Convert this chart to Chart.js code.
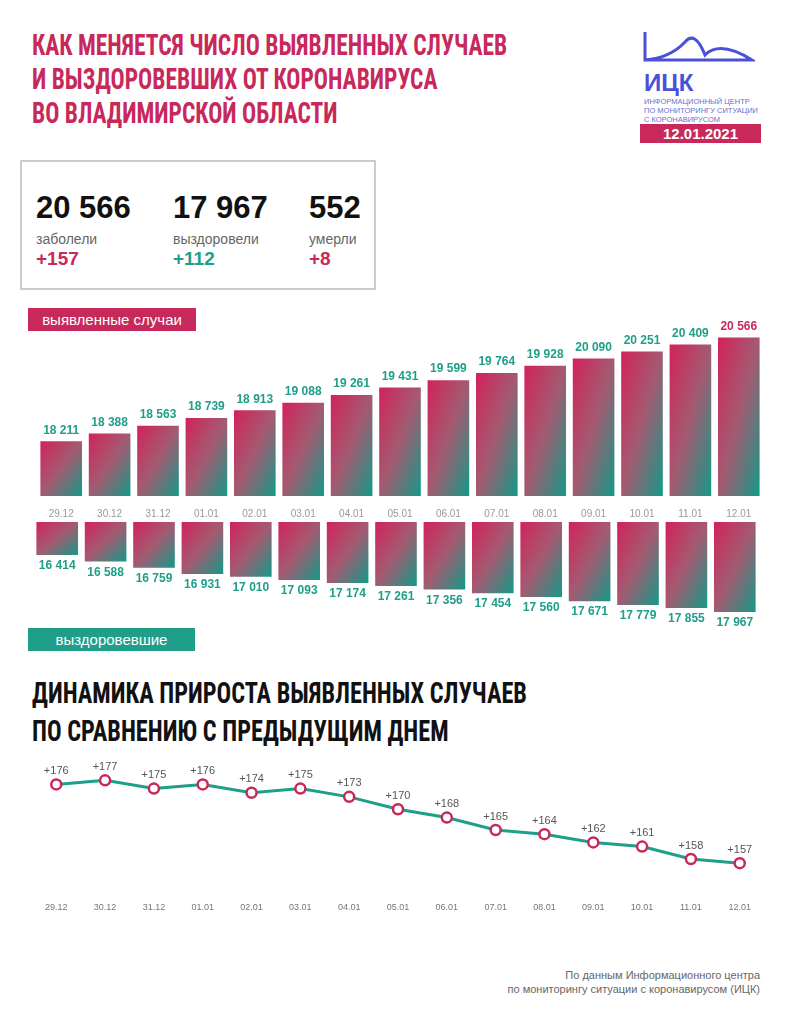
<!DOCTYPE html>
<html><head><meta charset="utf-8">
<script src="https://cdn.jsdelivr.net/npm/chart.js@4/dist/chart.umd.min.js"></script>
<style>
body{margin:0;width:793px;height:1024px;background:#fff;position:relative;font-family:"Liberation Sans",Arial,sans-serif;overflow:hidden}
.abs{position:absolute}
.title{font-family:"Liberation Sans Narrow","Roboto Condensed",sans-serif;font-weight:bold;font-size:29px;line-height:34px;color:#c8285a;transform:scaleX(0.81);transform-origin:left;white-space:nowrap}
.num{font-weight:bold;font-size:31px;color:#111}
.lbl{font-size:14px;color:#666}
.pl{font-weight:bold;font-size:19px}
</style></head><body>
<div class="abs title" style="left:32px;top:28px">КАК МЕНЯЕТСЯ ЧИСЛО ВЫЯВЛЕННЫХ СЛУЧАЕВ<br>И ВЫЗДОРОВЕВШИХ ОТ КОРОНАВИРУСА<br>ВО ВЛАДИМИРСКОЙ ОБЛАСТИ</div>
<svg class="abs" style="left:640px;top:30px" width="115" height="40"><path d="M5 2 V30 Q30 28 45 12 Q55 0 65 25 Q80 10 112 30 H5" fill="none" stroke="#4a50d8" stroke-width="3"/></svg>
<div class="abs" style="left:644px;top:69px;font-weight:bold;font-size:24px;color:#4a50d8">ИЦК</div>
<div class="abs" style="left:644px;top:97px;font-size:7.5px;line-height:9px;color:#6a6fd0">ИНФОРМАЦИОННЫЙ ЦЕНТР<br>ПО МОНИТОРИНГУ СИТУАЦИИ<br>С КОРОНАВИРУСОМ</div>
<div class="abs" style="left:640px;top:124px;width:121px;height:19px;background:#c8285a;color:#fff;font-size:15px;font-weight:bold;text-align:center;line-height:19px">12.01.2021</div>
<div class="abs" style="left:20px;top:160px;width:352px;height:126px;border:2px solid #ccc"></div>
<div class="abs num" style="left:36px;top:190px">20 566</div>
<div class="abs num" style="left:173px;top:190px">17 967</div>
<div class="abs num" style="left:309px;top:190px">552</div>
<div class="abs lbl" style="left:36px;top:231px">заболели</div>
<div class="abs lbl" style="left:173px;top:231px">выздоровели</div>
<div class="abs lbl" style="left:309px;top:231px">умерли</div>
<div class="abs pl" style="left:36px;top:248px;color:#c8285a">+157</div>
<div class="abs pl" style="left:173px;top:248px;color:#1f9e8a">+112</div>
<div class="abs pl" style="left:309px;top:248px;color:#c8285a">+8</div>
<div class="abs" style="left:28px;top:308px;width:168px;height:23px;background:#c8285a;color:#fff;font-size:15px;line-height:23px;text-align:center">выявленные случаи</div>
<div class="abs" style="left:28px;top:628px;width:167px;height:23px;background:#1f9e8a;color:#fff;font-size:15px;line-height:23px;text-align:center">выздоровевшие</div>
<div class="abs title" style="left:32px;top:674px;color:#111;font-size:30px;line-height:38px">ДИНАМИКА ПРИРОСТА ВЫЯВЛЕННЫХ СЛУЧАЕВ<br>ПО СРАВНЕНИЮ С ПРЕДЫДУЩИМ ДНЕМ</div>
<div class="abs" style="right:33px;top:968px;font-size:11px;line-height:14px;color:#666;text-align:right">По данным Информационного центра<br>по мониторингу ситуации с коронавирусом (ИЦК)</div>

<div class="abs" style="left:37px;top:310px;width:726px;height:214px"><canvas id="c1"></canvas></div>
<div class="abs" style="left:33px;top:522px;width:726px;height:110px"><canvas id="c2"></canvas></div>
<div class="abs" style="left:33px;top:740px;width:730px;height:185px"><canvas id="c3"></canvas></div>
<script>
const dates = ['29.12','30.12','31.12','01.01','02.01','03.01','04.01','05.01','06.01','07.01','08.01','09.01','10.01','11.01','12.01'];
const cases = [18211,18388,18563,18739,18913,19088,19261,19431,19599,19764,19928,20090,20251,20409,20566];
const recovered = [16414,16588,16759,16931,17010,17093,17174,17261,17356,17454,17560,17671,17779,17855,17967];
const growth = [176,177,175,176,174,175,173,170,168,165,164,162,161,158,157];

const PINK = '#c8285a', TEAL = '#1f9e8a';
const fmt = v => String(v).replace(/\B(?=(\d{3})+(?!\d))/g, ' ');

// corner-to-corner gradient per bar (like css "to bottom right")
function grad(ctx) {
  const ch = ctx.chart, xs = ch.scales.x, ys = ch.scales.y;
  if (!ch.chartArea || !xs || !ys || ctx.raw === undefined) return PINK;
  const x = xs.getPixelForValue(ctx.dataIndex);
  const y = ys.getPixelForValue(ctx.raw);
  const base = ys.getPixelForValue(ys.min);
  const top = Math.min(y, base), bot = Math.max(y, base);
  const w = 42, h = Math.max(bot - top, 1);
  const k = 2 * w * h / (w * w + h * h);
  const x0 = x - w / 2;
  const g = ch.ctx.createLinearGradient(x0, top, x0 + h * k, top + w * k);
  g.addColorStop(0, '#d2225a'); g.addColorStop(0.5, '#a35b72'); g.addColorStop(1, '#129a88');
  return g;
}

const barLabels = {
  id: 'barLabels',
  afterDatasetsDraw(chart, args, opts) {
    const c = chart.ctx;
    c.save();
    c.font = 'bold 12px "Liberation Sans", Arial';
    c.textAlign = 'center';
    chart.getDatasetMeta(0).data.forEach((b, i) => {
      const v = chart.data.datasets[0].data[i];
      c.fillStyle = (opts.lastPink && i === dates.length - 1) ? PINK : TEAL;
      if (opts.below) { c.textBaseline = 'top'; c.fillText(fmt(v), b.x, b.y + 5); }
      else { c.textBaseline = 'bottom'; c.fillText(fmt(v), b.x, b.y - 5); }
    });
    c.restore();
  }
};

function barChart(id, data, yOpts, showX, opts) {
  return new Chart(document.getElementById(id), {
    type: 'bar',
    data: { labels: dates, datasets: [{ data: data, backgroundColor: grad, barPercentage: 0.86, categoryPercentage: 1 }] },
    options: {
      animation: false, responsive: true, maintainAspectRatio: false,
      layout: { padding: { top: showX ? 10 : 0, bottom: 0 } },
      plugins: { legend: { display: false }, tooltip: { enabled: false }, barLabels: opts },
      scales: {
        x: { display: showX, grid: { display: false }, border: { display: false },
             ticks: { color: '#999', font: { size: 10 }, padding: 4 } },
        y: Object.assign({ display: false }, yOpts)
      }
    },
    plugins: [barLabels]
  });
}

barChart('c1', cases, { min: 16967, max: 20966 }, true, { lastPink: true });
barChart('c2', recovered, { min: 15515, max: 18512, reverse: true }, false, { below: true });

const pointLabels = {
  id: 'pointLabels',
  afterDatasetsDraw(chart) {
    const c = chart.ctx;
    c.save();
    c.font = '11px "Liberation Sans", Arial';
    c.fillStyle = '#555'; c.textAlign = 'center'; c.textBaseline = 'bottom';
    chart.getDatasetMeta(0).data.forEach((p, i) => c.fillText('+' + growth[i], p.x, p.y - 8));
    c.restore();
  }
};

new Chart(document.getElementById('c3'), {
  type: 'line',
  data: { labels: dates, datasets: [{ data: growth, borderColor: TEAL, borderWidth: 3,
    pointBackgroundColor: '#fff', pointBorderColor: PINK, pointBorderWidth: 2.5, pointRadius: 5, tension: 0 }] },
  options: {
    animation: false, responsive: true, maintainAspectRatio: false,
    layout: { padding: { top: 20 } },
    plugins: { legend: { display: false }, tooltip: { enabled: false } },
    scales: {
      x: { grid: { display: false }, border: { display: false }, ticks: { color: '#777', font: { size: 9 }, padding: 12 } },
      y: { display: false, min: 152.4, max: 181.9 }
    }
  },
  plugins: [pointLabels]
});
</script>
</body></html>
